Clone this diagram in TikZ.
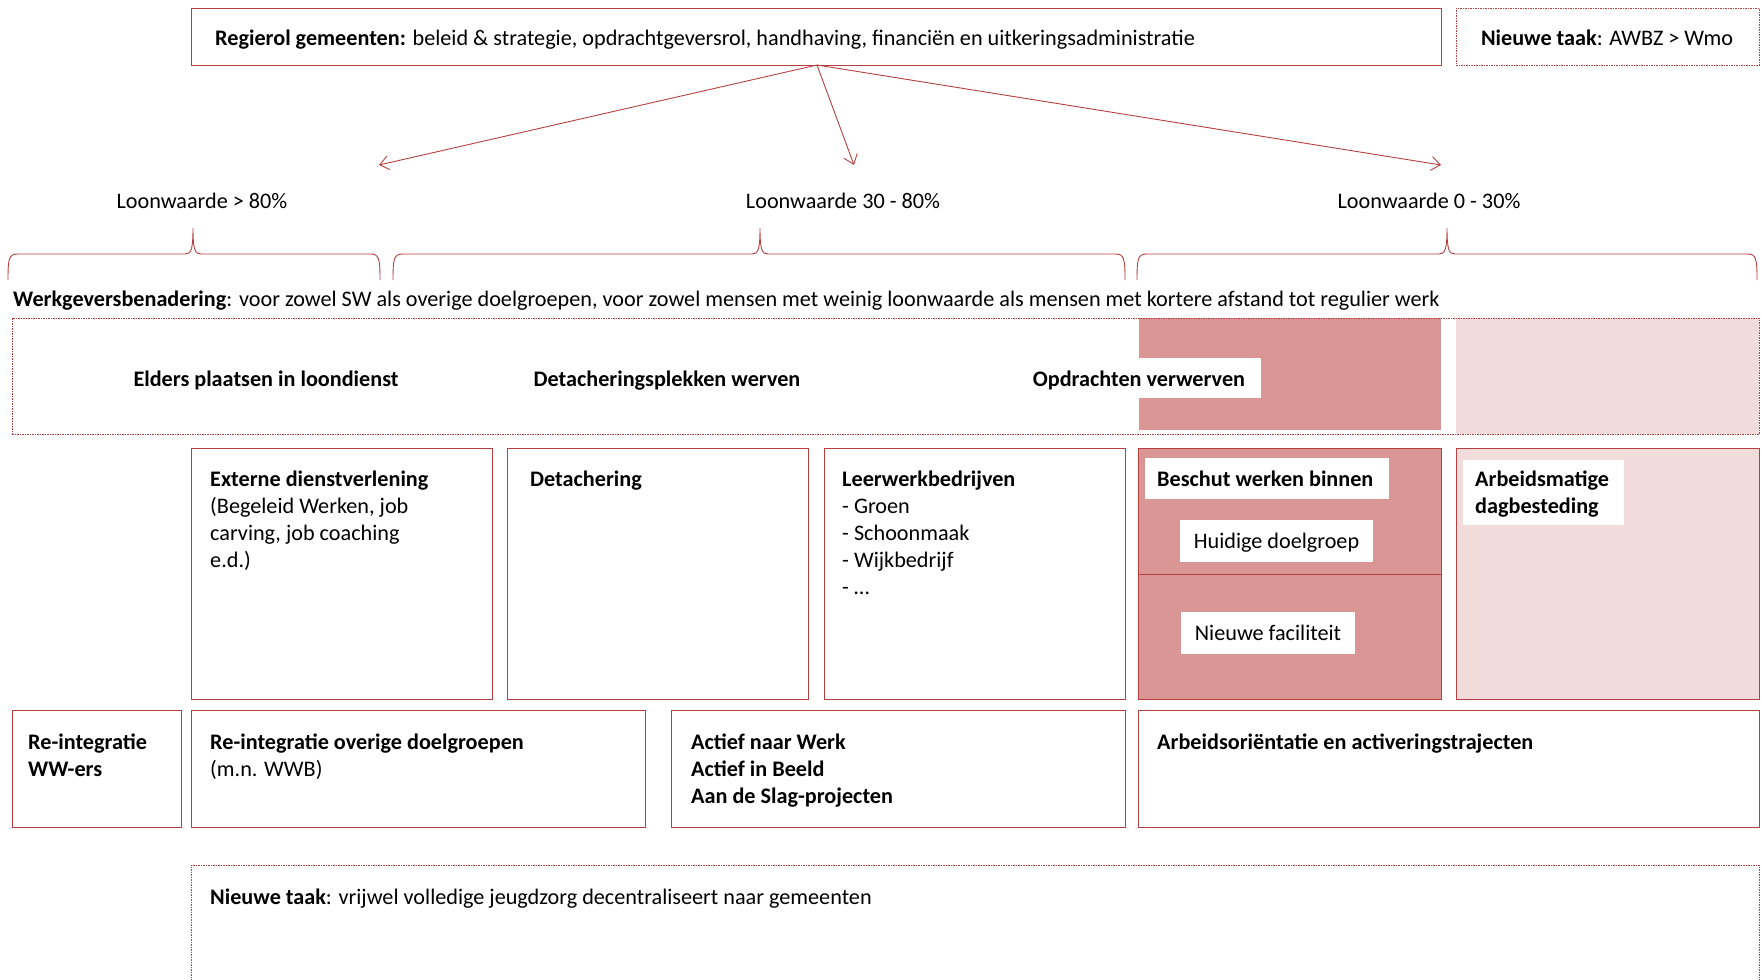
\documentclass[tikz,border=0pt]{standalone}
\usepackage{fontspec}
\setmainfont{Carlito}
\usetikzlibrary{arrows.meta}
\definecolor{lijn}{HTML}{B5403F}
\definecolor{donker}{HTML}{D99694}
\definecolor{licht}{HTML}{F2DCDB}
\tikzset{
  box/.style={draw=lijn, line width=0.9pt, inner sep=0pt, anchor=north west},
  dbox/.style={draw=lijn, line width=0.8pt, dash pattern=on 1.5pt off 1pt, inner sep=0pt, anchor=north west},
  txt/.style={inner sep=0pt, anchor=base west, align=left, font=\fontsize{22.2}{27}\selectfont},
  wbox/.style={fill=white, inner sep=0pt, anchor=north west},
  pijl/.style={draw=lijn, line width=0.9pt, -{Straight Barb[length=9pt,width=14pt,line width=0.9pt]}},
  accolade/.style={draw=lijn, line width=0.9pt},
}
\newcommand{\bx}[5]{\node[#1, minimum width=#4pt, minimum height=#5pt] (#2) at #3 {};}
\begin{document}
\begin{tikzpicture}[x=1pt,y=-1pt]
\useasboundingbox (0,0) rectangle (1762,980);
% fills
\bx{fill=donker,inner sep=0pt,anchor=north west}{fillA}{(1139,318)}{302}{112}
\bx{fill=licht,inner sep=0pt,anchor=north west}{fillB}{(1456,318)}{303}{116}
% top row
\bx{box}{regie}{(191,8)}{1250}{57}
\bx{dbox}{awbz}{(1456,8)}{303}{57}
\node[txt] (regietxt) at (215,45) {\textbf{Regierol gemeenten:} beleid \& strategie, opdrachtgeversrol, handhaving, financiën en uitkeringsadministratie};
\node[txt, anchor=base] (awbztxt) at (1607,45) {\textbf{Nieuwe taak}: AWBZ > Wmo};
% arrows
\coordinate (bron) at (817,65);
\coordinate (doelA) at (379,165);
\coordinate (doelB) at (854,165);
\coordinate (doelC) at (1441,165);
\draw[pijl] (bron) -- (doelA);
\draw[pijl] (bron) -- (doelB);
\draw[pijl] (bron) -- (doelC);
% loonwaarde labels
\node[txt, anchor=base] (lw1) at (202,208) {Loonwaarde > 80\%};
\node[txt, anchor=base] (lw2) at (843,208) {Loonwaarde 30 - 80\%};
\node[txt, anchor=base] (lw3) at (1429,208) {Loonwaarde 0 - 30\%};
% braces
\foreach \a/\t/\b in {8/193/380, 393/760/1125, 1137/1447/1757}{
  \draw[accolade] (\a,280) .. controls (\a,258) and (\a+1,254) .. (\a+10,254)
     -- (\t-8,254) .. controls (\t-2,254) and (\t,250) .. (\t,228)
     .. controls (\t,250) and (\t+2,254) .. (\t+8,254)
     -- (\b-10,254) .. controls (\b-1,254) and (\b,258) .. (\b,280);
}
% werkgeversbenadering
\node[txt] (wgb) at (13,306) {\textbf{Werkgeversbenadering}: voor zowel SW als overige doelgroepen, voor zowel mensen met weinig loonwaarde als mensen met kortere afstand tot regulier werk};
\bx{dbox}{wgbbox}{(12,318)}{1747}{116}
\node[txt, anchor=base] (elders) at (266,386) {\textbf{Elders plaatsen in loondienst}};
\node[txt, anchor=base] (detw) at (667,386) {\textbf{Detacheringsplekken werven}};
\bx{wbox}{opdrbox}{(1020,358)}{241}{40}
\node[txt, anchor=base] (opdr) at (1139,386) {\textbf{Opdrachten verwerven}};
% row 2
\bx{box}{ext}{(191,448)}{301}{251}
\bx{box}{det}{(507,448)}{301}{251}
\bx{box}{leer}{(824,448)}{301}{251}
\bx{box, fill=donker}{besch}{(1138,448)}{303}{251}
\bx{box, fill=licht}{arb}{(1456,448)}{303}{251}
\draw[draw=lijn, line width=0.9pt] (besch.west |- 0,574) -- (besch.east |- 0,574);
\node[txt, anchor=north west] (exttxt) at ([xshift=19pt,yshift=-23pt]ext.north west) {\textbf{Externe dienstverlening}\\(Begeleid Werken, job\\carving, job coaching\\e.d.)};
\node[txt, anchor=north west] (dettxt) at ([xshift=23pt,yshift=-23pt]det.north west) {\textbf{Detachering}};
\node[txt, anchor=north west] (leertxt) at ([xshift=18pt,yshift=-23pt]leer.north west) {\textbf{Leerwerkbedrijven}\\- Groen\\- Schoonmaak\\- Wijkbedrijf\\- \dots};
\bx{wbox}{beschw}{(1145,458)}{244}{41}
\node[txt] (beschtxt) at (1157,486) {\textbf{Beschut werken binnen}};
\bx{wbox}{huidw}{(1180,520)}{193}{42}
\node[txt, anchor=base] (huid) at (1276.5,548) {Huidige doelgroep};
\bx{wbox}{nieuww}{(1181,612)}{174}{42}
\node[txt, anchor=base] (nieuw) at (1268,640) {Nieuwe faciliteit};
\bx{wbox}{arbw}{(1463,460)}{161}{65}
\node[txt, anchor=north west] (arbtxt) at (1475,471) {\textbf{Arbeidsmatige}\\\textbf{dagbesteding}};
% row 3
\bx{box}{ww}{(12,710)}{169}{117}
\bx{box}{overig}{(191,710)}{454}{117}
\bx{box}{actief}{(671,710)}{454}{117}
\bx{box}{orient}{(1138,710)}{621}{117}
\node[txt, anchor=north west] (wwtxt) at (28,734) {\textbf{Re-integratie}\\\textbf{WW-ers}};
\node[txt, anchor=north west] (overigtxt) at (210,734) {\textbf{Re-integratie overige doelgroepen}\\(m.n. WWB)};
\node[txt, anchor=north west] (actieftxt) at (691,734) {\textbf{Actief naar Werk}\\\textbf{Actief in Beeld}\\\textbf{Aan de Slag-projecten}};
\node[txt, anchor=north west] (orienttxt) at (1157,734) {\textbf{Arbeidsoriëntatie en activeringstrajecten}};
% row 4
\bx{dbox}{jeugd}{(191,865)}{1568}{130}
\node[txt] (jeugdtxt) at (210,904) {\textbf{Nieuwe taak}: vrijwel volledige jeugdzorg decentraliseert naar gemeenten};
\end{tikzpicture}
\end{document}
